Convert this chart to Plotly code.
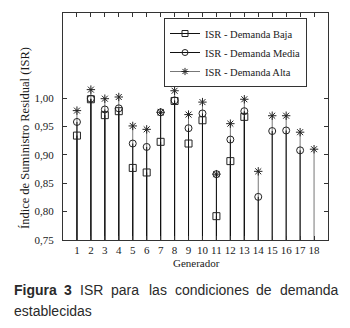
import plotly.graph_objects as go

generadores = list(range(1, 19))
tick_labels = [str(g) for g in generadores]
isr_baja = [0.934, 0.998, 0.970, 0.977, 0.877, 0.869, 0.923, 0.995, 0.920, 0.961,
            0.792, 0.889, 0.967, None, None, None, None, None]
isr_media = [0.958, 0.999, 0.980, 0.982, 0.920, 0.914, 0.975, 0.996, 0.947, 0.973,
             0.866, 0.927, 0.977, 0.826, 0.942, 0.943, 0.908, None]
isr_alta = [0.978, 1.015, 0.999, 1.002, 0.951, 0.945, 0.975, 1.013, 0.971, 0.993,
            0.866, 0.955, 0.998, 0.871, 0.969, 0.969, 0.940, 0.910]
y_ticks = [0.75, 0.80, 0.85, 0.90, 0.95, 1.00]
Y_MIN, Y_MAX = 0.75, 1.15

W, H = 350, 328
L, R, T, B = 63, 328, 13, 240


def px(x):
    return (x - L) / (R - L)


def py(y):
    return (B - y) / (B - T)


serif = "Liberation Serif"
sans = "Liberation Sans"
ink = "#1a1a1a"

fig = go.Figure()

series = [
    ("ISR - Demanda Alta", isr_alta, "asterisk-open", "#777777"),
    ("ISR - Demanda Media", isr_media, "circle-open", "#111111"),
    ("ISR - Demanda Baja", isr_baja, "square-open", "#111111"),
]

for name, vals, sym, stemcol in series:
    minus = [(v - Y_MIN) if v is not None else 0 for v in vals]
    fig.add_trace(go.Scatter(
        x=generadores, y=vals, mode="markers", showlegend=False,
        marker=dict(symbol=sym, size=7, color="#222222", line=dict(width=1, color="#222222")),
        error_y=dict(type="data", symmetric=False, array=[0] * len(vals), arrayminus=minus,
                     width=0, thickness=1, color=stemcol),
    ))

for name, vals, sym, stemcol in reversed(series):
    fig.add_trace(go.Scatter(
        x=[None], y=[None], mode="lines+markers", name=name,
        line=dict(color=stemcol, width=1),
        marker=dict(symbol=sym, size=6, color="#222222", line=dict(width=1, color="#222222")),
    ))

fig.update_layout(
    width=W, height=H,
    margin=dict(l=L, r=W - R, t=T, b=H - B, pad=0),
    paper_bgcolor="white", plot_bgcolor="white",
    separators=",.",
    font=dict(family=serif, size=11, color=ink),
    showlegend=True,
    legend=dict(x=px(164), y=py(18), xanchor="left", yanchor="top",
                bordercolor="#333333", borderwidth=1, bgcolor="white",
                font=dict(family=serif, size=10.5, color=ink),
                tracegroupgap=0, itemwidth=30),
    xaxis=dict(range=[0, 19], tickvals=generadores, ticktext=tick_labels,
               showline=True, linecolor="#333333", linewidth=1, mirror="ticks",
               ticks="inside", ticklen=4, tickcolor="#333333",
               showgrid=False, zeroline=False,
               tickfont=dict(family=serif, size=11, color=ink)),
    yaxis=dict(range=[Y_MIN, Y_MAX], tickvals=y_ticks, tickformat=".2f",
               showline=True, linecolor="#333333", linewidth=1, mirror="ticks",
               ticks="inside", ticklen=4, tickcolor="#333333",
               showgrid=False, zeroline=False, ticklabelstandoff=6,
               tickfont=dict(family=serif, size=11, color=ink)),
)

ann = [
    dict(text="Generador", x=px(196), y=py(263), xanchor="center", yanchor="middle",
         font=dict(family=serif, size=11, color=ink)),
    dict(text="Índice de Suministro Residual (ISR)", x=px(25), y=py(138), textangle=-90,
         xanchor="center", yanchor="middle", font=dict(family=serif, size=12.5, color=ink)),
]
words = [("<b>Figura</b>", 13), ("<b>3</b>", 63.4), ("ISR", 78.8), ("para", 109.7),
         ("las", 148.4), ("condiciones", 173.9), ("de", 255.4), ("demanda", 278.6)]
for w, x0 in words:
    ann.append(dict(text=w, x=px(x0), y=py(290), xanchor="left", yanchor="middle",
                    font=dict(family=sans, size=14, color="#2a2a2a")))
ann.append(dict(text="establecidas", x=px(13), y=py(311), xanchor="left", yanchor="middle",
                font=dict(family=sans, size=14, color="#2a2a2a")))
for a in ann:
    a.update(xref="paper", yref="paper", showarrow=False, borderpad=0)
fig.update_layout(annotations=ann)

fig.write_html("out.html", config={"displayModeBar": False},
               post_script="document.body.style.margin='0';document.body.style.padding='0';")
